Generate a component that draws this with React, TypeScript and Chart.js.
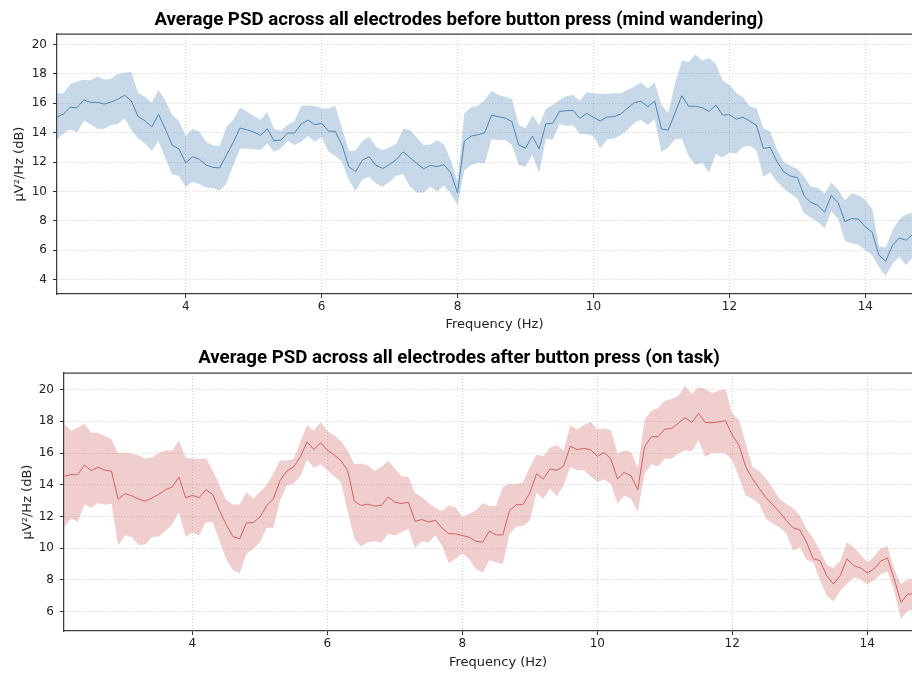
import React, { useEffect, useRef } from "react";
import { Chart, registerables } from "chart.js";

Chart.register(...registerables);

const freqs = [
  2.1, 2.2, 2.3, 2.4, 2.5, 2.6, 2.7, 2.8, 2.9, 3.0,
  3.1, 3.2, 3.3, 3.4, 3.5, 3.6, 3.7, 3.8, 3.9, 4.0,
  4.1, 4.2, 4.3, 4.4, 4.5, 4.6, 4.7, 4.8, 4.9, 5.0,
  5.1, 5.2, 5.3, 5.4, 5.5, 5.6, 5.7, 5.8, 5.9, 6.0,
  6.1, 6.2, 6.3, 6.4, 6.5, 6.6, 6.7, 6.8, 6.9, 7.0,
  7.1, 7.2, 7.3, 7.4, 7.5, 7.6, 7.7, 7.8, 7.9, 8.0,
  8.1, 8.2, 8.3, 8.4, 8.5, 8.6, 8.7, 8.8, 8.9, 9.0,
  9.1, 9.2, 9.3, 9.4, 9.5, 9.6, 9.7, 9.8, 9.9, 10.0,
  10.1, 10.2, 10.3, 10.4, 10.5, 10.6, 10.7, 10.8, 10.9, 11.0,
  11.1, 11.2, 11.3, 11.4, 11.5, 11.6, 11.7, 11.8, 11.9, 12.0,
  12.1, 12.2, 12.3, 12.4, 12.5, 12.6, 12.7, 12.8, 12.9, 13.0,
  13.1, 13.2, 13.3, 13.4, 13.5, 13.6, 13.7, 13.8, 13.9, 14.0,
  14.1, 14.2, 14.3, 14.4, 14.5, 14.6, 14.7,
];

// Before button press (mind wandering)
const mwMean = [
  15.05, 15.27, 15.73, 15.7, 16.23, 16.07, 16.07, 15.95, 16.09, 16.27,
  16.55, 16.16, 15.09, 14.82, 14.39, 15.25, 14.25, 13.16, 12.9, 11.95,
  12.36, 12.2, 11.8, 11.64, 11.6, 12.48, 13.36, 14.32, 14.2, 14.05,
  13.82, 14.27, 13.45, 13.5, 13.98, 13.98, 14.59, 14.86, 14.55, 14.64,
  14.11, 14.09, 13.16, 11.68, 11.36, 12.14, 12.36, 11.77, 11.57, 11.84,
  12.18, 12.7, 12.3, 11.91, 11.55, 11.77, 11.7, 11.82, 11.27, 9.91,
  13.43, 13.77, 13.86, 14.0, 15.2, 15.09, 15.0, 14.75, 13.16, 12.95,
  13.77, 12.91, 14.61, 14.64, 15.45, 15.5, 15.52, 14.98, 15.32, 15.05,
  14.8, 15.07, 15.09, 15.27, 15.66, 16.05, 16.14, 15.77, 16.16, 14.25,
  14.18, 15.35, 16.52, 15.8, 15.8, 15.7, 15.45, 15.89, 15.2, 15.23,
  14.93, 15.05, 14.8, 14.48, 12.93, 13.0, 12.02, 11.34, 11.05, 10.95,
  9.7, 9.25, 9.05, 8.59, 9.73, 9.23, 7.95, 8.16, 8.11, 7.59,
  7.23, 5.66, 5.25, 6.34, 6.84, 6.68, 7.09,
];
const mwUpper = [
  16.68, 16.68, 17.3, 17.48, 17.6, 17.55, 17.82, 17.6, 17.68, 18.0,
  18.09, 18.14, 16.68, 16.45, 16.05, 16.9, 16.2, 15.2, 14.8, 13.77,
  14.25, 14.07, 13.39, 13.14, 13.1, 14.41, 14.9, 15.7, 15.45, 15.16,
  14.86, 15.39, 14.23, 14.14, 14.52, 14.82, 15.82, 15.86, 15.82, 15.64,
  15.64, 15.86, 14.3, 12.77, 12.77, 13.43, 13.73, 13.05, 12.82, 13.0,
  13.27, 14.27, 14.18, 13.68, 13.16, 13.2, 13.48, 13.2, 12.14, 10.66,
  15.32, 15.73, 15.82, 16.23, 16.84, 16.57, 16.45, 16.3, 14.52, 14.3,
  15.18, 14.52, 15.61, 15.89, 16.23, 16.5, 16.57, 16.18, 16.75, 16.68,
  16.66, 16.64, 16.68, 16.68, 16.9, 17.14, 17.41, 17.02, 17.41, 15.89,
  15.32, 17.36, 18.91, 18.82, 19.32, 18.91, 19.09, 18.68, 17.55, 17.27,
  16.7, 16.41, 15.8, 15.64, 14.32, 14.09, 12.84, 12.0, 11.75, 11.55,
  11.0, 10.32, 10.25, 9.86, 10.59, 10.14, 9.41, 9.86, 9.75, 9.41,
  8.84, 6.27, 6.18, 7.36, 8.09, 8.45, 8.55,
];
const mwLower = [
  13.5, 13.95, 14.23, 14.0, 14.82, 14.57, 14.27, 14.27, 14.52, 14.59,
  14.98, 14.18, 13.61, 13.27, 12.75, 13.45, 12.25, 11.18, 11.05, 10.32,
  10.66, 10.5, 10.27, 10.23, 10.05, 10.55, 11.8, 12.93, 12.93, 12.89,
  12.82, 13.27, 12.7, 12.93, 13.45, 13.16, 13.39, 13.77, 13.39, 13.73,
  12.7, 12.41, 12.02, 10.77, 10.05, 10.82, 11.0, 10.55, 10.32, 10.66,
  11.07, 11.18, 10.32, 9.93, 9.91, 10.32, 10.0, 10.41, 9.86, 9.07,
  11.45, 11.8, 11.95, 11.91, 13.55, 13.5, 13.5, 13.16, 11.8, 11.68,
  12.48, 11.27, 13.61, 13.5, 14.59, 14.45, 14.5, 13.91, 13.91, 13.77,
  12.93, 13.55, 13.59, 13.84, 14.18, 14.68, 14.86, 14.52, 14.91, 12.7,
  13.0, 13.55, 13.57, 12.41, 11.8, 11.95, 11.27, 12.55, 12.32, 12.64,
  12.59, 13.05, 13.11, 12.77, 11.0, 11.3, 10.66, 10.2, 9.86, 9.52,
  8.5, 8.23, 7.93, 7.48, 8.66, 8.16, 6.64, 6.45, 6.39, 6.0,
  5.66, 4.86, 4.25, 5.09, 5.55, 4.98, 5.55,
];

// After button press (on task)
const otMean = [
  14.54, 14.64, 14.64, 15.25, 14.89, 15.11, 14.92, 14.87, 13.08, 13.44,
  13.31, 13.1, 12.97, 13.16, 13.4, 13.69, 13.86, 14.49, 13.19, 13.33,
  13.19, 13.69, 13.4, 12.38, 11.5, 10.74, 10.59, 11.6, 11.62, 11.96,
  12.68, 13.12, 14.28, 14.87, 15.13, 15.76, 16.71, 16.22, 16.65, 16.18,
  15.89, 15.52, 14.92, 12.95, 12.7, 12.78, 12.66, 12.7, 13.23, 12.91,
  12.81, 12.91, 11.69, 11.81, 11.65, 11.77, 11.27, 10.91, 10.91, 10.8,
  10.7, 10.44, 10.38, 11.08, 10.84, 10.84, 12.38, 12.74, 12.76, 13.48,
  14.7, 14.37, 15.0, 14.92, 15.17, 16.43, 16.22, 16.29, 16.22, 15.8,
  16.03, 15.65, 14.37, 14.79, 14.56, 13.69, 16.39, 17.03, 17.03, 17.51,
  17.55, 17.87, 18.23, 17.93, 18.5, 17.93, 17.91, 17.97, 18.04, 17.13,
  16.5, 15.13, 14.39, 13.76, 13.19, 12.74, 12.28, 11.75, 11.29, 11.16,
  10.38, 9.33, 9.22, 8.27, 7.74, 8.27, 9.33, 8.9, 8.76, 8.44,
  8.69, 9.18, 9.39, 8.06, 6.58, 7.11, 7.11,
];
const otUpper = [
  17.87, 17.4, 17.62, 17.83, 17.28, 17.28, 17.07, 16.86, 16.01, 16.03,
  15.97, 15.86, 15.65, 15.72, 16.01, 16.18, 16.14, 16.77, 15.72, 15.65,
  15.65, 15.68, 14.92, 13.97, 13.06, 12.76, 12.76, 13.54, 13.12, 13.54,
  13.97, 14.7, 15.55, 15.51, 15.65, 16.71, 17.76, 17.4, 17.97, 17.4,
  17.13, 16.74, 16.18, 15.3, 15.34, 15.23, 14.87, 15.13, 15.51, 15.02,
  14.54, 14.49, 13.48, 13.23, 12.85, 12.53, 12.34, 12.7, 12.59, 11.96,
  12.17, 12.38, 12.85, 12.64, 12.7, 13.86, 14.07, 14.03, 14.18, 15.13,
  15.91, 15.8, 16.33, 16.5, 16.14, 17.76, 17.49, 17.76, 17.97, 17.49,
  17.55, 17.45, 15.97, 16.18, 16.08, 15.08, 18.08, 18.67, 18.86, 19.3,
  19.41, 19.6, 20.25, 19.73, 20.15, 20.04, 19.77, 19.94, 20.02, 18.5,
  18.08, 16.6, 15.13, 14.87, 14.39, 13.76, 13.12, 12.81, 12.53, 12.07,
  11.22, 10.65, 9.85, 8.97, 8.76, 9.18, 10.38, 10.06, 9.6, 9.11,
  9.43, 10.0, 10.13, 8.69, 7.74, 8.02, 8.06,
];
const otLower = [
  11.33, 11.86, 11.65, 12.76, 12.55, 12.85, 12.74, 12.81, 10.17, 10.8,
  10.7, 10.21, 10.23, 10.7, 10.74, 11.12, 11.5, 12.28, 10.7, 11.01,
  10.8, 11.65, 11.65, 10.49, 9.33, 8.63, 8.42, 9.64, 9.96, 10.38,
  11.29, 11.29, 13.02, 13.97, 14.07, 14.54, 15.59, 15.08, 15.3, 14.92,
  14.54, 14.18, 12.38, 10.59, 10.11, 10.38, 10.44, 10.36, 10.91, 10.8,
  11.01, 11.22, 10.02, 10.44, 10.38, 10.8, 10.17, 9.05, 9.33, 9.68,
  9.33, 8.69, 8.46, 9.26, 9.11, 9.01, 10.91, 11.37, 11.41, 11.75,
  13.48, 13.12, 13.76, 13.27, 13.97, 15.13, 14.92, 14.92, 14.54, 14.18,
  14.33, 14.07, 12.81, 13.33, 13.12, 12.28, 14.7, 15.3, 15.17, 15.65,
  15.65, 15.97, 16.18, 16.12, 16.81, 15.76, 16.01, 16.01, 15.97, 15.55,
  14.49, 13.33, 13.12, 12.81, 11.86, 11.54, 11.33, 10.95, 9.85, 10.06,
  9.26, 9.11, 7.99, 7.0, 6.65, 7.32, 7.74, 8.16, 8.06, 7.74,
  7.95, 8.38, 8.54, 7.32, 5.53, 6.05, 6.16,
];

const xTicks = [4, 6, 8, 10, 12, 14];
const yTicksTop = [4, 6, 8, 10, 12, 14, 16, 18, 20];
const yTicksBottom = [6, 8, 10, 12, 14, 16, 18, 20];

const titleTop = "Average PSD across all electrodes before button press (mind wandering)";
const titleBottom = "Average PSD across all electrodes after button press (on task)";
const xLabel = "Frequency (Hz)";
const yLabel = "µV²/Hz (dB)";

const TICK_FONT = { family: "'DejaVu Sans', sans-serif", size: 12 };
const LABEL_FONT = { family: "'DejaVu Sans', sans-serif", size: 13 };

const framePlugin = {
  id: "frameTitle",
  afterDraw(chart: any, _args: any, opts: any) {
    const { ctx, chartArea } = chart;
    ctx.save();
    ctx.strokeStyle = "#3d3d3d";
    ctx.lineWidth = 1.25;
    ctx.beginPath();
    ctx.moveTo(chartArea.left, chartArea.top);
    ctx.lineTo(chart.width, chartArea.top);
    ctx.stroke();
    ctx.font = "bold 18.7px Roboto, 'DejaVu Sans', sans-serif";
    ctx.fillStyle = "#000";
    ctx.textAlign = "center";
    ctx.textBaseline = "alphabetic";
    ctx.fillText(opts.text, opts.x, opts.y);
    ctx.restore();
  },
};

type PsdProps = {
  width: number;
  height: number;
  padTop: number;
  axisW: number;
  axisH: number;
  xMin: number;
  xMax: number;
  yMin: number;
  yMax: number;
  yTicks: number[];
  mean: number[];
  upper: number[];
  lower: number[];
  line: string;
  band: string;
  title: string;
  titleY: number;
  yTitlePad: number;
  xTitlePad: number;
};

function PsdChart(p: PsdProps) {
  const ref = useRef<HTMLCanvasElement | null>(null);
  useEffect(() => {
    if (!ref.current) return;
    const pts = (arr: number[]) => freqs.map((f, i) => ({ x: f, y: arr[i] }));
    const gridCommon = {
      color: "#c4c4c4",
      lineWidth: 0.8,
      drawTicks: true,
      tickLength: 4,
      tickColor: "#333",
      tickWidth: 1,
    };
    const border = { display: true, color: "#3d3d3d", width: 1.25, dash: [1, 2] };
    const chart = new Chart(ref.current, {
      type: "line",
      data: {
        datasets: [
          {
            data: pts(p.mean),
            borderColor: p.line,
            borderWidth: 1,
            pointRadius: 0,
            tension: 0,
            fill: false,
            order: 0,
          },
          {
            data: pts(p.upper),
            borderWidth: 0,
            borderColor: "rgba(0,0,0,0)",
            backgroundColor: p.band,
            pointRadius: 0,
            tension: 0,
            fill: "+1",
            order: 1,
          },
          {
            data: pts(p.lower),
            borderWidth: 0,
            borderColor: "rgba(0,0,0,0)",
            pointRadius: 0,
            tension: 0,
            fill: false,
            order: 1,
          },
        ],
      },
      options: {
        responsive: false,
        animation: false,
        devicePixelRatio: 1,
        events: [],
        layout: { padding: { top: p.padTop, left: 0, right: 0, bottom: 0 } },
        plugins: {
          legend: { display: false },
          tooltip: { enabled: false },
          frameTitle: { text: p.title, x: 459, y: p.titleY },
        } as any,
        scales: {
          x: {
            type: "linear",
            min: p.xMin,
            max: p.xMax,
            afterBuildTicks: (s: any) => {
              s.ticks = xTicks.map((v) => ({ value: v }));
            },
            afterFit: (s: any) => {
              s.height = p.axisH;
            },
            grid: gridCommon,
            border,
            ticks: {
              color: "#222",
              font: TICK_FONT,
              padding: 2,
              maxRotation: 0,
              autoSkip: false,
            },
            title: {
              display: true,
              text: xLabel,
              color: "#222",
              font: LABEL_FONT,
              padding: { top: 0, bottom: p.xTitlePad },
            },
          },
          y: {
            type: "linear",
            min: p.yMin,
            max: p.yMax,
            afterBuildTicks: (s: any) => {
              s.ticks = p.yTicks.map((v) => ({ value: v }));
            },
            afterFit: (s: any) => {
              s.width = p.axisW;
            },
            grid: gridCommon,
            border,
            ticks: { color: "#222", font: TICK_FONT, padding: 6, autoSkip: false },
            title: {
              display: true,
              text: yLabel,
              color: "#222",
              font: LABEL_FONT,
              padding: { top: p.yTitlePad, bottom: 0 },
            },
          },
        },
      } as any,
      plugins: [framePlugin as any],
    });
    return () => chart.destroy();
  }, []);
  return (
    <canvas
      ref={ref}
      width={p.width}
      height={p.height}
      style={{ display: "block", width: p.width, height: p.height }}
    />
  );
}

export default function App() {
  return (
    <div
      style={{
        position: "absolute",
        left: 0,
        top: 0,
        width: 912,
        height: 673,
        overflow: "hidden",
        background: "#fff",
      }}
    >
      <PsdChart
        width={932}
        height={336}
        padTop={34}
        axisW={57}
        axisH={42}
        xMin={2.106}
        xMax={14.981}
        yMin={3.02}
        yMax={20.72}
        yTicks={yTicksTop}
        mean={mwMean}
        upper={mwUpper}
        lower={mwLower}
        line="rgba(70,130,180,0.95)"
        band="rgba(70,130,180,0.3)"
        title={titleTop}
        titleY={25}
        yTitlePad={11.5}
        xTitlePad={4}
      />
      <PsdChart
        width={932}
        height={337}
        padTop={37}
        axisW={64}
        axisH={42}
        xMin={2.097}
        xMax={14.96}
        yMin={4.78}
        yMax={21.05}
        yTicks={yTicksBottom}
        mean={otMean}
        upper={otUpper}
        lower={otLower}
        line="rgba(205,92,92,0.95)"
        band="rgba(205,92,92,0.3)"
        title={titleBottom}
        titleY={27}
        yTitlePad={19.5}
        xTitlePad={2.5}
      />
    </div>
  );
}
